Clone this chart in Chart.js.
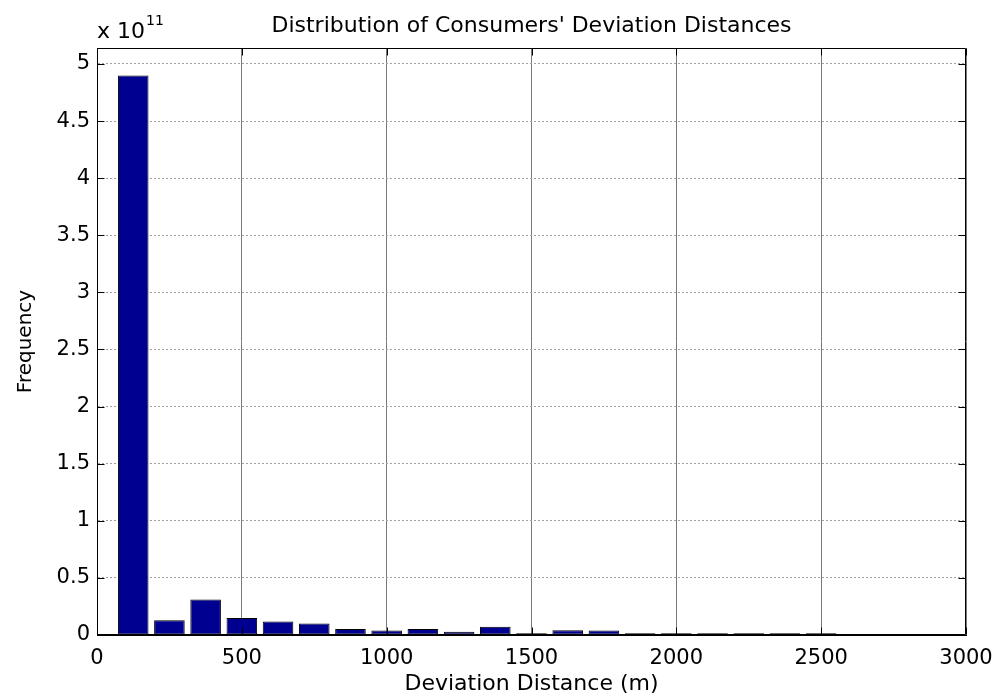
<!DOCTYPE html>
<html>
<head>
<meta charset="utf-8">
<title>Distribution of Consumers' Deviation Distances</title>
<script src="https://cdn.jsdelivr.net/npm/chart.js@4.4.1/dist/chart.umd.min.js"></script>
<style>
  html, body { margin: 0; padding: 0; background: #ffffff; }
  canvas { display: block; }
</style>
</head>
<body>
<canvas id="hist" width="997" height="697"></canvas>
<script>
// Histogram bin centres (m)
const binCenters = [125, 250, 375, 500, 625, 750, 875, 1000, 1125, 1250,
                    1375, 1500, 1625, 1750, 1875, 2000, 2125, 2250, 2375, 2500];
// Counts per bin, in units of 10^11
const frequency = [4.90, 0.13, 0.31, 0.148, 0.118, 0.10, 0.053, 0.039, 0.053, 0.028,
                   0.072, 0.015, 0.042, 0.040, 0.015, 0.015, 0.015, 0.015, 0.015, 0.015];
const yExponent = 11;
const xTickValues = [0, 500, 1000, 1500, 2000, 2500, 3000];
const yTickValues = [0, 0.5, 1, 1.5, 2, 2.5, 3, 3.5, 4, 4.5, 5];

const FONT = 'DejaVu Sans';

// White page background
const background = {
  id: 'background',
  beforeDraw(chart) {
    const ctx = chart.ctx;
    ctx.save();
    ctx.fillStyle = '#ffffff';
    ctx.fillRect(0, 0, chart.width, chart.height);
    ctx.restore();
  }
};

// Closed axes box with inward tick marks on all four sides, plus the exponent label
const axesBox = {
  id: 'axesBox',
  afterDraw(chart) {
    const {ctx, chartArea: a, scales: {x, y}} = chart;
    const L = Math.round(a.left) + 0.5, R = Math.round(a.right) - 0.5;
    const T = Math.round(a.top) + 0.5, B = Math.round(a.bottom) - 0.5;
    const len = 7;
    ctx.save();
    ctx.strokeStyle = '#000000';
    ctx.lineWidth = 1;
    ctx.beginPath();
    ctx.rect(L, T, R - L, B - T);
    xTickValues.forEach(v => {
      const px = Math.round(x.getPixelForValue(v)) + 0.5;
      ctx.moveTo(px, B); ctx.lineTo(px, B - len);
      ctx.moveTo(px, T); ctx.lineTo(px, T + len);
    });
    yTickValues.forEach(v => {
      const py = Math.round(y.getPixelForValue(v)) + 0.5;
      ctx.moveTo(L, py); ctx.lineTo(L + len, py);
      ctx.moveTo(R, py); ctx.lineTo(R - len, py);
    });
    ctx.stroke();

    // "x 10^11" multiplier above the y axis
    ctx.fillStyle = '#000000';
    ctx.textAlign = 'left';
    ctx.textBaseline = 'alphabetic';
    ctx.font = '22px "' + FONT + '"';
    const base = 'x 10';
    ctx.fillText(base, a.left, 38);
    const w = ctx.measureText(base).width;
    ctx.font = '14px "' + FONT + '"';
    ctx.fillText(String(yExponent), a.left + w + 1, 25);
    ctx.restore();
  }
};

new Chart(document.getElementById('hist'), {
  type: 'bar',
  data: {
    datasets: [{
      data: binCenters.map((c, i) => ({ x: c, y: frequency[i] })),
      backgroundColor: '#000090',
      borderColor: '#000000',
      borderWidth: 1,
      borderSkipped: false,
      barPercentage: 0.845,
      categoryPercentage: 1.0
    }]
  },
  options: {
    responsive: false,
    animation: false,
    events: [],
    layout: { padding: { left: 0, right: 31, top: 0, bottom: 0 } },
    plugins: {
      legend: { display: false },
      tooltip: { enabled: false },
      title: {
        display: true,
        fullSize: false,
        text: "Distribution of Consumers' Deviation Distances",
        color: '#000000',
        font: { family: FONT, size: 22, weight: 'normal' },
        padding: { top: 13.5, bottom: 8.1 }
      }
    },
    scales: {
      x: {
        type: 'linear',
        min: 0,
        max: 3000,
        offset: false,
        afterBuildTicks: axis => { axis.ticks = xTickValues.map(v => ({ value: v })); },
        afterFit: axis => { axis.height = 62; axis.paddingLeft = 0; axis.paddingRight = 0; },
        ticks: {
          color: '#000000',
          font: { family: FONT, size: 21 },
          padding: 11,
          maxRotation: 0,
          autoSkip: false,
          callback: v => String(v)
        },
        grid: { offset: false, color: '#7a7a7a', lineWidth: 1, drawTicks: false },
        border: { display: true, color: '#000000', width: 1 },
        title: {
          display: true,
          text: 'Deviation Distance (m)',
          color: '#000000',
          font: { family: FONT, size: 22 },
          padding: { top: 0, bottom: 0 }
        }
      },
      y: {
        type: 'linear',
        min: 0,
        max: 5.14,
        afterBuildTicks: axis => { axis.ticks = yTickValues.map(v => ({ value: v })); },
        afterFit: axis => { axis.width = 97; axis.paddingTop = 0; axis.paddingBottom = 0; },
        ticks: {
          color: '#000000',
          font: { family: FONT, size: 21 },
          padding: 7,
          callback: v => String(v)
        },
        grid: { color: '#a0a0a0', lineWidth: 1, drawTicks: false },
        border: { display: true, color: '#000000', width: 1, dash: [2, 2] },
        title: {
          display: true,
          text: 'Frequency',
          color: '#000000',
          font: { family: FONT, size: 20 },
          padding: { top: 14, bottom: 0 }
        }
      }
    }
  },
  plugins: [background, axesBox]
});
</script>
</body>
</html>
